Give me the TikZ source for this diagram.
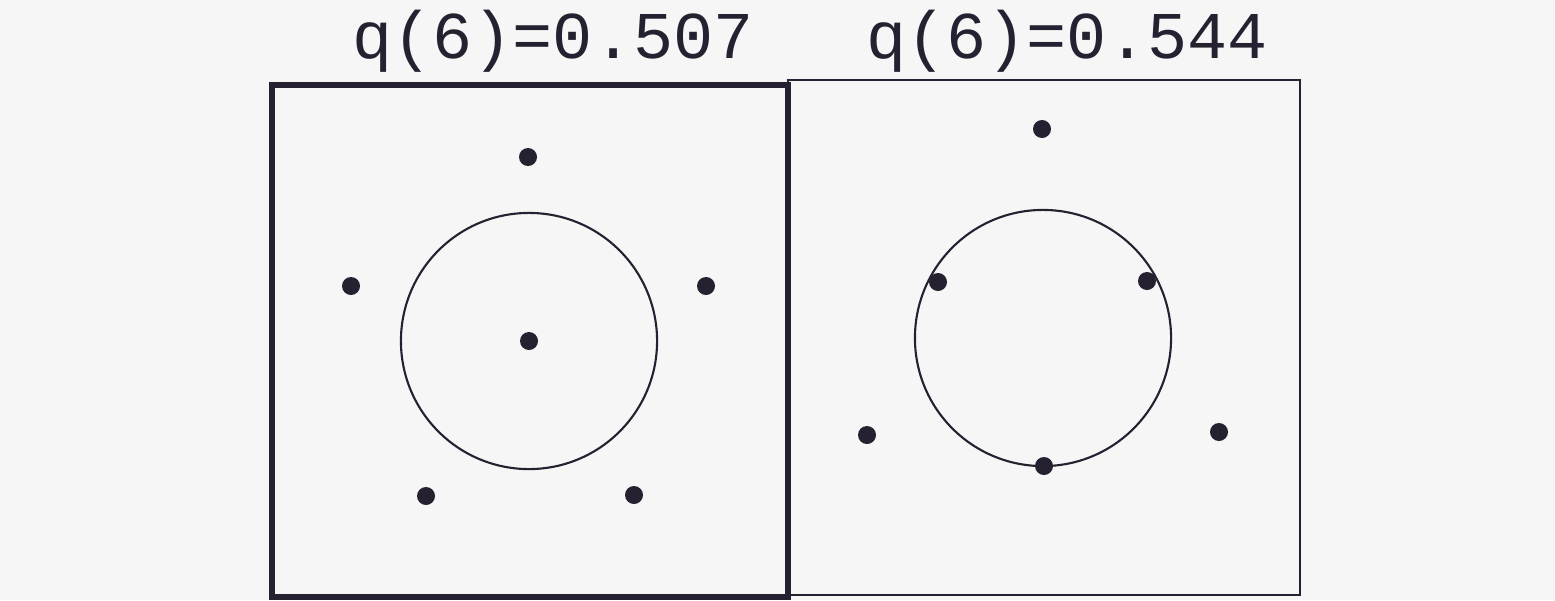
\documentclass[tikz,border=0pt]{standalone}
\usepackage{fontspec}
\setmonofont{Liberation Mono}
\usetikzlibrary{positioning}

\definecolor{ink}{RGB}{38,33,48}
\definecolor{paper}{RGB}{246,246,246}

\begin{document}
\begin{tikzpicture}[
  x=0.01cm, y=-0.01cm,
  pt/.style={circle, fill=ink, inner sep=0pt, minimum size=0.18cm},
  ring/.style={circle, draw=ink, line width=0.6pt, inner sep=0pt, minimum size=2.56cm},
  frame/.style={draw=ink, line width=0.6pt},
  best/.style={frame, line width=1.5pt},
  ptitle/.style={font=\fontsize{19}{22}\selectfont\ttfamily, text=ink, anchor=base},
]
\fill[paper] (0,0) rectangle (1555,600);
\useasboundingbox (0,0) rectangle (1555,600);

% --- left configuration ---
\draw[frame] (788,80) rectangle (1300,595);
\draw[best] (272,85) rectangle (788,597);
\node[ptitle] (tl) at (553,58) {q(6)=0.507};

\node[ring] (cl) at (529,341) {};
\node[pt] (l0) at (529,341) {};
\node[pt] (l1) at (528,157) {};
\node[pt] (l2) at (351,286) {};
\node[pt] (l3) at (706,286) {};
\node[pt] (l4) at (426,496) {};
\node[pt] (l5) at (634,495) {};

% --- right configuration ---
\node[ptitle] (tr) at (1067,58) {q(6)=0.544};

\node[ring] (cr) at (1043,338) {};
\node[pt] (r0) at (1042,129) {};
\node[pt] (r1) at (938,282) {};
\node[pt] (r2) at (1147,281) {};
\node[pt] (r3) at (867,435) {};
\node[pt] (r4) at (1219,432) {};
\node[pt] (r5) at (1044,466) {};

\end{tikzpicture}
\end{document}
